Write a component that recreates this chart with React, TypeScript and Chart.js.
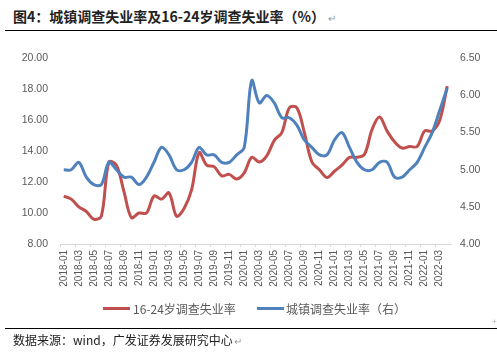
import React, { useEffect, useRef } from "react";
import { Chart, registerables } from "chart.js";

Chart.register(...registerables);

const months = [
  "2018-01", "2018-02", "2018-03", "2018-04", "2018-05", "2018-06", "2018-07", "2018-08", "2018-09", "2018-10", "2018-11", "2018-12",
  "2019-01", "2019-02", "2019-03", "2019-04", "2019-05", "2019-06", "2019-07", "2019-08", "2019-09", "2019-10", "2019-11", "2019-12",
  "2020-01", "2020-02", "2020-03", "2020-04", "2020-05", "2020-06", "2020-07", "2020-08", "2020-09", "2020-10", "2020-11", "2020-12",
  "2021-01", "2021-02", "2021-03", "2021-04", "2021-05", "2021-06", "2021-07", "2021-08", "2021-09", "2021-10", "2021-11", "2021-12",
  "2022-01", "2022-02", "2022-03", "2022-04",
];

// 16-24岁调查失业率 (left axis)
const youthRate = [
  11.1, 10.9, 10.4, 10.1, 9.6, 9.8, 13.3, 13.1, 11.4, 9.7, 10.0, 10.0,
  11.1, 10.9, 11.3, 9.8, 10.3, 11.5, 13.9, 13.1, 13.0, 12.4, 12.5, 12.2,
  12.6, 13.6, 13.3, 13.7, 14.7, 15.2, 16.8, 16.8, 15.2, 13.3, 12.8, 12.3,
  12.7, 13.1, 13.6, 13.6, 13.8, 15.4, 16.2, 15.3, 14.6, 14.2, 14.3, 14.3,
  15.3, 15.3, 16.0, 18.2,
];

// 城镇调查失业率 (right axis)
const urbanRate = [
  5.0, 5.0, 5.1, 4.9, 4.8, 4.8, 5.1, 5.0, 4.9, 4.9, 4.8, 4.9,
  5.1, 5.3, 5.2, 5.0, 5.0, 5.1, 5.3, 5.2, 5.2, 5.1, 5.1, 5.2,
  5.3, 6.2, 5.9, 6.0, 5.9, 5.7, 5.7, 5.6, 5.4, 5.3, 5.2, 5.2,
  5.4, 5.5, 5.3, 5.1, 5.0, 5.0, 5.1, 5.1, 4.9, 4.9, 5.0, 5.1,
  5.3, 5.5, 5.8, 6.1,
];

const leftRange = [8, 20];
const rightRange = [4, 6.5];

const seriesNames = ["16-24岁调查失业率", "城镇调查失业率（右）"];
const RED = "#C0504D";
const BLUE = "#4F81BD";
const AXIS_FONT = "'Liberation Sans', Arial, sans-serif";
const CJK_FONT = "'Noto Sans CJK SC', 'Noto Sans', sans-serif";

export default function App() {
  const ref = useRef<HTMLCanvasElement>(null);

  useEffect(() => {
    if (!ref.current) return;
    const chart = new Chart(ref.current, {
      type: "line",
      data: {
        labels: months,
        datasets: [
          {
            label: seriesNames[0],
            data: youthRate,
            borderColor: RED,
            backgroundColor: RED,
            borderWidth: 3,
            pointRadius: 0,
            tension: 0.35,
            yAxisID: "y",
            order: 1,
          },
          {
            label: seriesNames[1],
            data: urbanRate,
            borderColor: BLUE,
            backgroundColor: BLUE,
            borderWidth: 3,
            pointRadius: 0,
            tension: 0.35,
            yAxisID: "y1",
            order: 0,
          },
        ],
      },
      options: {
        responsive: false,
        animation: false,
        layout: { padding: { top: 13, left: 0, right: 0, bottom: 0 } },
        plugins: { legend: { display: false }, tooltip: { enabled: false } },
        scales: {
          x: {
            offset: true,
            grid: {
              offset: true,
              drawOnChartArea: false,
              drawTicks: true,
              tickLength: 3,
              tickColor: (ctx: any) => (ctx.index % 2 === 0 ? "#d9d9d9" : "rgba(0,0,0,0)"),
            },
            border: { display: true, color: "#d9d9d9", width: 1 },
            ticks: {
              autoSkip: false,
              maxRotation: 90,
              minRotation: 90,
              padding: 3,
              color: "#595959",
              font: { family: AXIS_FONT, size: 10 },
              callback: (_v: any, i: number) => (i % 2 === 0 ? months[i] : ""),
            },
            afterFit: (s: any) => {
              s.height = 58;
            },
          },
          y: {
            position: "left",
            min: leftRange[0],
            max: leftRange[1],
            grid: { display: false, drawTicks: false },
            border: { display: false },
            ticks: {
              stepSize: 2,
              padding: 12,
              color: "#595959",
              font: { family: AXIS_FONT, size: 10.5 },
              callback: (v: any) => Number(v).toFixed(2),
            },
            afterFit: (s: any) => {
              s.width = 60;
            },
          },
          y1: {
            position: "right",
            min: rightRange[0],
            max: rightRange[1],
            grid: { display: false, drawTicks: false },
            border: { display: false },
            ticks: {
              stepSize: 0.5,
              padding: 9,
              color: "#595959",
              font: { family: AXIS_FONT, size: 10.5 },
              callback: (v: any) => Number(v).toFixed(2),
            },
            afterFit: (s: any) => {
              s.width = 46;
            },
          },
        },
      },
    });
    return () => chart.destroy();
  }, []);

  return (
    <div style={{ position: "absolute", left: 0, top: 0, width: 497, height: 359, background: "#fff", overflow: "hidden" }}>
      <div
        style={{
          position: "absolute",
          left: 13,
          top: 6,
          lineHeight: "20px",
          fontFamily: CJK_FONT,
          fontWeight: 700,
          fontSize: 14,
          color: "#222",
          whiteSpace: "nowrap",
        }}
      >
        图4：城镇调查失业率及16-24岁调查失业率（%）
        <span style={{ fontWeight: 400, fontSize: 10, color: "#999", marginLeft: 3 }}>↵</span>
      </div>
      <div style={{ position: "absolute", left: 5, top: 30, width: 492, height: 1, background: "#000" }} />

      <canvas ref={ref} width={497} height={262} style={{ position: "absolute", left: 0, top: 40, width: 497, height: 262 }} />

      <div style={{ position: "absolute", left: 103, top: 307, width: 27, height: 3, background: RED }} />
      <div
        style={{
          position: "absolute",
          left: 133,
          top: 300,
          lineHeight: "17px",
          fontFamily: CJK_FONT,
          fontSize: 12,
          color: "#595959",
          whiteSpace: "nowrap",
        }}
      >
        {seriesNames[0]}
      </div>
      <div style={{ position: "absolute", left: 257, top: 307, width: 27, height: 3, background: BLUE }} />
      <div
        style={{
          position: "absolute",
          left: 286,
          top: 300,
          lineHeight: "17px",
          fontFamily: CJK_FONT,
          fontSize: 12,
          color: "#595959",
          whiteSpace: "nowrap",
        }}
      >
        {seriesNames[1]}
      </div>
      <div style={{ position: "absolute", left: 492, top: 318, fontSize: 8, lineHeight: "8px", color: "#aaa", fontFamily: AXIS_FONT }}>+</div>

      <div style={{ position: "absolute", left: 5, top: 328, width: 492, height: 1, background: "#000" }} />
      <div
        style={{
          position: "absolute",
          left: 13,
          top: 331,
          lineHeight: "17px",
          fontFamily: CJK_FONT,
          fontSize: 12,
          color: "#222",
          whiteSpace: "nowrap",
        }}
      >
        数据来源：wind，广发证券发展研究中心
        <span style={{ fontSize: 10, color: "#999", marginLeft: 1 }}>↵</span>
      </div>
    </div>
  );
}
